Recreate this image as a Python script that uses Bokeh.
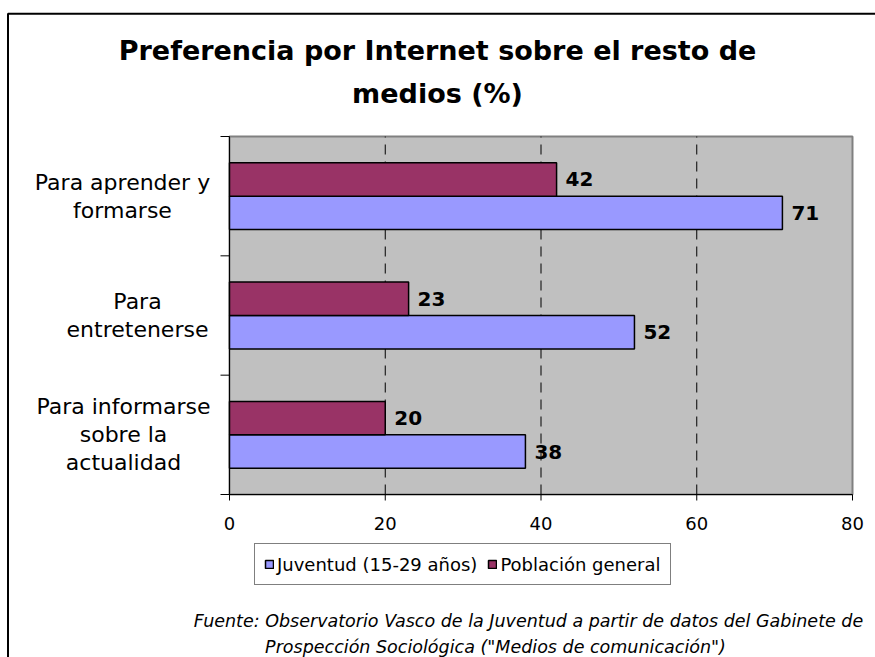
from bokeh.plotting import figure
from bokeh.models import Range1d, ColumnDataSource, Legend, LegendItem
from bokeh.core.properties import value
from bokeh.embed import file_html
from bokeh.resources import INLINE

# ---------------- data ----------------
categories = ["Para aprender y\nformarse", "Para\nentretenerse", "Para informarse\nsobre la\nactualidad"]
juventud = [71, 52, 38]
poblacion = [42, 23, 20]
series_names = ["Juventud (15-29 años)", "Población general"]
x_ticks = [0, 20, 40, 60, 80]
title_lines = ["Preferencia por Internet sobre el resto de", "medios (%)"]
source_lines = ["Fuente: Observatorio Vasco de la Juventud a partir de datos del Gabinete de",
                "Prospección Sociológica (\"Medios de comunicación\")"]

# ---------------- layout constants (pixels of the picture) ----------------
FONT = value("DejaVu Sans")
W, H = 875, 657
FL, FR, FT, FB = 229, 852, 136, 494          # plot-area edges
XMIN, XMAX = x_ticks[0], x_ticks[-1]
n = len(categories)
YMIN, YMAX = 0, n
PX_X = (XMAX - XMIN) / (FR - FL)
PX_Y = (YMAX - YMIN) / (FB - FT)


def dx(px):
    return XMIN + (px - FL) * PX_X


def dy(py):
    return YMIN + (FB - py) * PX_Y


p = figure(width=W, height=H, output_backend="svg", toolbar_location=None,
           x_range=Range1d(dx(0), dx(W)), y_range=Range1d(dy(H), dy(0)),
           x_axis_type=None, y_axis_type=None, min_border=0)
p.grid.visible = False
p.outline_line_color = None
p.background_fill_color = "white"
p.border_fill_color = "white"

# outer chart border (runs off the right and bottom edges, as in the original)
p.quad(left=[dx(7.5)], right=[dx(W + 40)], top=[dy(13.3)], bottom=[dy(H + 40)],
       fill_color=None, line_color="black", line_width=2)

# plot area
p.quad(left=[XMIN], right=[XMAX], bottom=[YMIN], top=[YMAX],
       fill_color="#C0C0C0", line_color="#808080", line_width=2)

# dashed vertical gridlines
grid_x = x_ticks[1:-1]
p.segment(x0=grid_x, x1=grid_x, y0=[YMIN] * len(grid_x), y1=[YMAX] * len(grid_x),
          line_color="black", line_width=1, line_dash="10 7")

# bars
centers = [n - i - 0.5 for i in range(n)]
bar_h = 0.28
src = ColumnDataSource(dict(
    juv_y=[c - bar_h / 2 for c in centers],
    pob_y=[c + bar_h / 2 for c in centers],
    juv=juventud, pob=poblacion,
    juv_txt=[str(v) for v in juventud],
    pob_txt=[str(v) for v in poblacion],
))
r_juv = p.hbar(y="juv_y", left=0, right="juv", height=bar_h, source=src,
               fill_color="#9999FF", line_color="black", line_width=1.5)
r_pob = p.hbar(y="pob_y", left=0, right="pob", height=bar_h, source=src,
               fill_color="#993366", line_color="black", line_width=1.5)

for xf, yf, tf in (("juv", "juv_y", "juv_txt"), ("pob", "pob_y", "pob_txt")):
    p.text(x=xf, y=yf, text=tf, source=src, x_offset=9,
           text_align="left", text_baseline="middle",
           text_font=FONT, text_font_size="20px", text_font_style="bold", text_color="black")

# axes: lines, ticks, tick labels
p.segment(x0=[XMIN, XMIN], y0=[YMIN, YMIN], x1=[XMAX, XMIN], y1=[YMIN, YMAX],
          line_color="black", line_width=1)
p.segment(x0=x_ticks, x1=x_ticks, y0=[YMIN] * len(x_ticks), y1=[dy(FB + 6)] * len(x_ticks),
          line_color="black", line_width=1)
y_ticks = list(range(YMIN, YMAX + 1))
p.segment(x0=[XMIN] * len(y_ticks), x1=[dx(FL - 9)] * len(y_ticks), y0=y_ticks, y1=y_ticks,
          line_color="black", line_width=1)
p.text(x=x_ticks, y=[dy(523)] * len(x_ticks), text=[str(t) for t in x_ticks],
       text_align="center", text_baseline="middle",
       text_font=FONT, text_font_size="18px", text_color="black")

# category labels (multi-line, centred lines)
cat_center_px = [122, 137, 123]
LINE_PX = 28
cx, cy, ct = [], [], []
for i, cat in enumerate(categories):
    lines = cat.split("\n")
    for k, line in enumerate(lines):
        off = (k - (len(lines) - 1) / 2) * LINE_PX
        cx.append(dx(cat_center_px[i]))
        cy.append(centers[i] - off * PX_Y)
        ct.append(line)
p.text(x=cx, y=cy, text=ct, text_align="center", text_baseline="middle",
       text_font=FONT, text_font_size="22px", text_color="black")

# title
p.text(x=[dx(437)] * len(title_lines), y=[dy(50 + 43 * k) for k in range(len(title_lines))],
       text=title_lines, text_align="center", text_baseline="middle",
       text_font=FONT, text_font_size="27px", text_font_style="bold", text_color="black")

# source note
p.text(x=[dx(528), dx(495)], y=[dy(620 + 26 * k) for k in range(len(source_lines))],
       text=source_lines, text_align="center", text_baseline="middle",
       text_font=FONT, text_font_size="17.5px", text_font_style="italic", text_color="black")

# legend
legend = Legend(items=[LegendItem(label=series_names[0], renderers=[r_juv]),
                       LegendItem(label=series_names[1], renderers=[r_pob])],
                orientation="horizontal", location=(254, H - 585),
                label_text_font="DejaVu Sans", label_text_font_size="18px", label_text_color="black",
                glyph_width=10, glyph_height=10, label_standoff=3, spacing=10,
                padding=9, label_height=22, margin=0,
                border_line_color="black", border_line_width=1,
                background_fill_color="white", background_fill_alpha=1)
p.add_layout(legend)

with open("out.html", "w", encoding="utf-8") as f:
    f.write(file_html(p, INLINE))
